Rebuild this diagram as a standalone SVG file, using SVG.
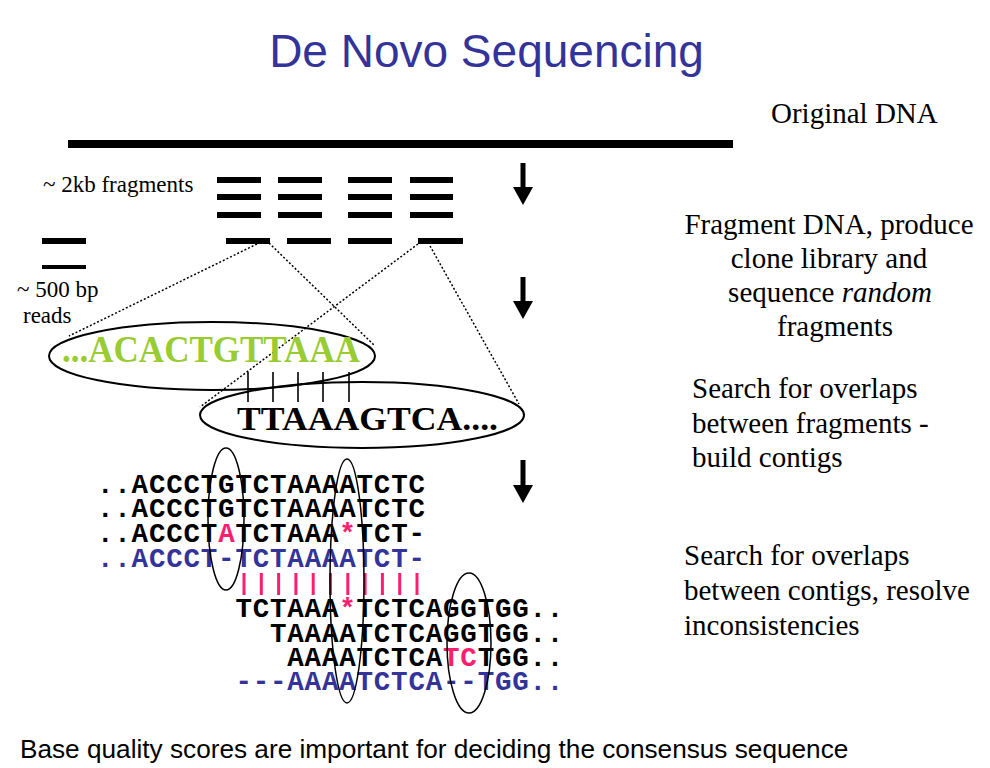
<svg xmlns="http://www.w3.org/2000/svg" width="990" height="768" viewBox="0 0 990 768">
<style>
.serif{font-family:"Liberation Serif","Times New Roman",serif;fill:#000}
.note{font-size:29px}
.small{font-size:23px}
.seq{font-family:"Courier New","Liberation Mono",monospace;font-weight:bold;font-size:27.5px;letter-spacing:0.8px;fill:#000}
.blue{fill:#333399}
.pink{fill:#FF1E6E}
.bar{fill:#000}
.dot{stroke:#000;stroke-width:1.5;stroke-dasharray:2 2;fill:none}
.ell{fill:none;stroke:#000;stroke-width:2}
.vell{fill:none;stroke:#000;stroke-width:1.5}
.tick{stroke:#000;stroke-width:1.6}
.match{stroke:#FF1E6E;stroke-width:3}
.arrowshaft{fill:#000}
</style>
<rect width="990" height="768" fill="#fff"/>

<g id="title">
<text x="486.5" y="67" text-anchor="middle" font-family="Liberation Sans, Arial, sans-serif" font-size="46" fill="#333399">De Novo Sequencing</text>
</g>

<g id="original-dna">
<rect x="68" y="140" width="665" height="8" class="bar"/>
<text x="771" y="123" class="serif note">Original DNA</text>
</g>

<g id="fragments">
<rect x="217" y="177" width="44" height="6" class="bar"/>
<rect x="278" y="177" width="44" height="6" class="bar"/>
<rect x="348" y="177" width="44" height="6" class="bar"/>
<rect x="410" y="177" width="43" height="6" class="bar"/>
<rect x="217" y="194" width="44" height="6" class="bar"/>
<rect x="278" y="194" width="44" height="6" class="bar"/>
<rect x="348" y="194" width="44" height="6" class="bar"/>
<rect x="410" y="194" width="43" height="6" class="bar"/>
<rect x="217" y="212" width="44" height="6" class="bar"/>
<rect x="278" y="212" width="44" height="6" class="bar"/>
<rect x="348" y="212" width="44" height="6" class="bar"/>
<rect x="410" y="212" width="43" height="6" class="bar"/>
<text x="43" y="192" class="serif small">~ 2kb fragments</text>
</g>

<g id="reads">
<rect x="226" y="238" width="44" height="6" class="bar"/>
<rect x="287" y="238" width="44" height="6" class="bar"/>
<rect x="348" y="238" width="44" height="6" class="bar"/>
<rect x="418" y="238" width="45" height="6" class="bar"/>
<rect x="42" y="238" width="44" height="6" class="bar"/>
<rect x="42" y="265" width="44" height="4" class="bar"/>
<text x="17" y="297" class="serif small">~ 500 bp</text>
<text x="23" y="323" class="serif small">reads</text>
</g>

<g id="connectors">
<line x1="257" y1="244" x2="69" y2="336" class="dot"/>
<line x1="269" y1="243" x2="375" y2="346" class="dot"/>
<line x1="418" y1="244" x2="200" y2="407" class="dot"/>
<line x1="430" y1="246" x2="519" y2="404" class="dot"/>
<line x1="248" y1="372" x2="248" y2="402" class="tick"/>
<line x1="273" y1="372" x2="273" y2="402" class="tick"/>
<line x1="298" y1="372" x2="298" y2="402" class="tick"/>
<line x1="323" y1="372" x2="323" y2="402" class="tick"/>
<line x1="349" y1="372" x2="349" y2="402" class="tick"/>
<line x1="244" y1="573" x2="244" y2="595" class="match"/>
<line x1="261.3" y1="573" x2="261.3" y2="595" class="match"/>
<line x1="278.6" y1="573" x2="278.6" y2="595" class="match"/>
<line x1="295.9" y1="573" x2="295.9" y2="595" class="match"/>
<line x1="313.2" y1="573" x2="313.2" y2="595" class="match"/>
<line x1="330.5" y1="573" x2="330.5" y2="595" class="match"/>
<line x1="347.8" y1="573" x2="347.8" y2="595" class="match"/>
<line x1="365.1" y1="573" x2="365.1" y2="595" class="match"/>
<line x1="382.4" y1="573" x2="382.4" y2="595" class="match"/>
<line x1="399.7" y1="573" x2="399.7" y2="595" class="match"/>
<line x1="417" y1="573" x2="417" y2="595" class="match"/>
</g>

<g id="read1">
<ellipse cx="212" cy="356" rx="163" ry="34" class="ell"/>
<text x="62" y="362" font-family="Liberation Serif, Times New Roman, serif" font-weight="bold" font-size="37" fill="#99CC33" textLength="298" lengthAdjust="spacingAndGlyphs">...ACACTGTTAAA</text>
</g>

<g id="read2">
<ellipse cx="362" cy="415" rx="162" ry="33" class="ell"/>
<text x="237" y="430" font-family="Liberation Serif, Times New Roman, serif" font-weight="bold" font-size="34" fill="#000" textLength="261" lengthAdjust="spacingAndGlyphs">TTAAAGTCA....</text>
</g>

<g id="arrows">
<rect x="520.5" y="163" width="5" height="26" class="arrowshaft"/>
<polygon points="513,187 533,187 523,205" fill="#000"/>
<rect x="520.5" y="277" width="5" height="26" class="arrowshaft"/>
<polygon points="513,301 533,301 523,319" fill="#000"/>
<rect x="520.5" y="460" width="5" height="26" class="arrowshaft"/>
<polygon points="513,485 533,485 523,503" fill="#000"/>
</g>

<g id="step-fragment">
<text class="serif note" text-anchor="middle"><tspan x="829" y="234">Fragment DNA, produce</tspan><tspan x="829" y="268">clone library and</tspan><tspan x="830" y="302">sequence <tspan font-style="italic">random</tspan></tspan><tspan x="835" y="336">fragments</tspan></text>
</g>

<g id="step-contigs">
<text class="serif note"><tspan x="692" y="398">Search for overlaps</tspan><tspan x="692" y="433">between fragments -</tspan><tspan x="692" y="467">build contigs</tspan></text>
</g>

<g id="step-resolve">
<text class="serif note"><tspan x="684" y="565">Search for overlaps</tspan><tspan x="684" y="600">between contigs, resolve</tspan><tspan x="684" y="635">inconsistencies</tspan></text>
</g>

<g id="contig1">
<text x="97" y="493" class="seq">..ACCCTGTCTAAAATCTC</text>
<text x="97" y="517" class="seq">..ACCCTGTCTAAAATCTC</text>
<text x="97" y="542" class="seq">..ACCCT<tspan class="pink">A</tspan>TCTAAA<tspan class="pink">*</tspan>TCT-</text>
<text x="97" y="567" class="seq blue">..ACCCT-TCTAAAATCT-</text>
</g>

<g id="contig2">
<text x="235.4" y="617" class="seq">TCTAAA<tspan class="pink">*</tspan>TCTCAGGTGG..</text>
<text x="270" y="642" class="seq">TAAAATCTCAGGTGG..</text>
<text x="287.3" y="666" class="seq">AAAATCTCA<tspan class="pink">TC</tspan>TGG..</text>
<text x="235.4" y="690" class="seq blue">---AAAATCTCA--TGG..</text>
</g>

<g id="highlights">
<ellipse cx="226" cy="519" rx="18" ry="71" class="vell"/>
<ellipse cx="347" cy="581" rx="17" ry="122" class="vell"/>
<ellipse cx="469" cy="643" rx="22" ry="70" class="vell"/>
</g>

<g id="footer">
<text x="20" y="758" font-family="Liberation Sans, Arial, sans-serif" font-size="26.2" fill="#000">Base quality scores are important for deciding the consensus sequence</text>
</g>
</svg>
